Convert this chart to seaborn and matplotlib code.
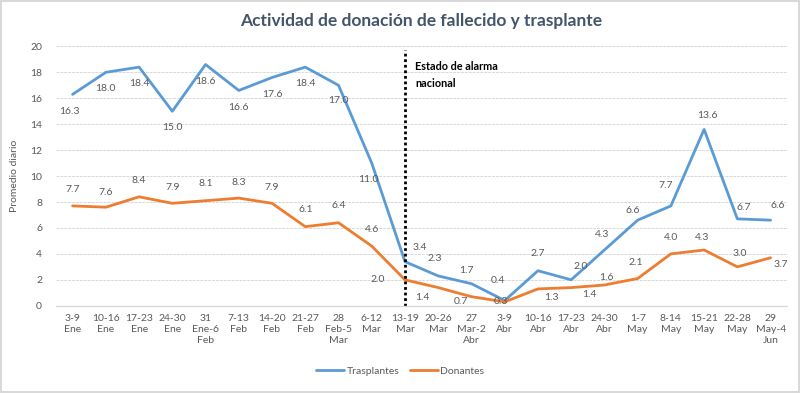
import numpy as np
import pandas as pd
import matplotlib
matplotlib.use("Agg")
import matplotlib.pyplot as plt
import seaborn as sns

categories = ["3-9\nEne", "10-16\nEne", "17-23\nEne", "24-30\nEne", "31\nEne-6\nFeb",
              "7-13\nFeb", "14-20\nFeb", "21-27\nFeb", "28\nFeb-5\nMar", "6-12\nMar",
              "13-19\nMar", "20-26\nMar", "27\nMar-2\nAbr", "3-9\nAbr", "10-16\nAbr",
              "17-23\nAbr", "24-30\nAbr", "1-7\nMay", "8-14\nMay", "15-21\nMay",
              "22-28\nMay", "29\nMay-4\nJun"]
trasplantes = [16.3, 18.0, 18.4, 15.0, 18.6, 16.6, 17.6, 18.4, 17.0, 11.0, 3.4,
               2.3, 1.7, 0.4, 2.7, 2.0, 4.3, 6.6, 7.7, 13.6, 6.7, 6.6]
donantes = [7.7, 7.6, 8.4, 7.9, 8.1, 8.3, 7.9, 6.1, 6.4, 4.6, 2.0,
            1.4, 0.7, 0.3, 1.3, 1.4, 1.6, 2.1, 4.0, 4.3, 3.0, 3.7]
series_names = ["Trasplantes", "Donantes"]
yticks = [0, 2, 4, 6, 8, 10, 12, 14, 16, 18, 20]
alarm_index = 10

# label offsets in pixels (dx, dy up)
off_t = [(-3, -17), (0, -16), (0, -16), (0, -16), (0, -17), (0, -17), (0, -17), (0, -16),
         (0, -15), (-3, -16), (15, 14), (-3, 17), (-5, 13), (-7, 20), (0, 17), (10, 13),
         (-2, 15), (-5, 10), (-5, 20), (3, 14), (6, 11), (7, 15)]
off_d = [(0, 16), (0, 15), (0, 16), (0, 16), (0, 17), (0, 16), (0, 16), (0, 17),
         (0, 17), (0, 17), (-27, 0), (-16, -10), (-11, -5), (-4, 0), (13, -9), (18, -7),
         (2, 8), (-2, 16), (0, 16), (-2, 12), (2, 13), (10, -7)]

sns.set_style("white")
plt.rcParams['font.family'] = ['Lato', 'DejaVu Sans']

blue = "#5B9BD5"
orange = "#ED7D31"
gray = "#595959"

pos = np.arange(len(categories))
df = pd.DataFrame({
    "pos": np.concatenate([pos, pos]),
    "valor": trasplantes + donantes,
    "serie": [series_names[0]] * len(pos) + [series_names[1]] * len(pos),
})

fig = plt.figure(figsize=(8, 3.93), dpi=100)
ax = fig.add_axes([0.07, 0.222, 0.914, 0.66])
sns.lineplot(data=df, x="pos", y="valor", hue="serie", ax=ax,
             palette={series_names[0]: blue, series_names[1]: orange},
             linewidth=2.0, legend=True)

ax.set_xlim(-0.5, len(categories) - 0.5)
ax.set_ylim(0, 20)
ax.set_yticks(yticks)
ax.set_yticklabels([str(v) for v in yticks], color=gray, fontsize=7.5)
ax.set_xticks(pos)
ax.set_xticklabels(categories, color=gray, fontsize=7.5, linespacing=1.25)
ax.tick_params(axis="both", length=0)
ax.tick_params(axis="x", pad=6)
ax.tick_params(axis="y", pad=10)
ax.grid(axis="y", color="#D9D9D9", linestyle=(0, (3, 1)), linewidth=0.7)
ax.set_axisbelow(True)
for s in ["top", "right", "left"]:
    ax.spines[s].set_visible(False)
ax.spines["bottom"].set_color("#D9D9D9")
ax.spines["bottom"].set_linewidth(1.0)
ax.set_xlabel("")
ax.set_ylabel("Promedio diario", color=gray, fontsize=7.5, labelpad=8)

ax.set_title("Actividad de donación de fallecido y trasplante", color="#44546A",
             fontsize=12.5, fontweight="bold", pad=15)

# alarm line
ax.axvline(alarm_index, ymin=0, ymax=0.985, color="black", linestyle=(0, (1, 1)),
           linewidth=2.0)
ax.text(alarm_index + 0.3, 17.8, "Estado de alarma\nnacional", fontsize=7.8,
        fontweight="bold", color="black", va="center", ha="left", linespacing=1.75)

# data labels
px = 0.72
for i, v in enumerate(trasplantes):
    dx, dy = off_t[i]
    ax.annotate(f"{v:.1f}", (pos[i], v), xytext=(dx * px, dy * px),
                textcoords="offset points", ha="center", va="center",
                fontsize=7.5, color=gray)
for i, v in enumerate(donantes):
    dx, dy = off_d[i]
    ax.annotate(f"{v:.1f}", (pos[i], v), xytext=(dx * px, dy * px),
                textcoords="offset points", ha="center", va="center",
                fontsize=7.5, color=gray)

handles, labels = ax.get_legend_handles_labels()
ax.legend(handles, labels, loc="center", bbox_to_anchor=(0.5, 0.055),
          bbox_transform=fig.transFigure, ncol=2, frameon=False, fontsize=7.5,
          handlelength=2.7, handletextpad=0.2, columnspacing=1.0, labelcolor=gray)

fig.patch.set_edgecolor("#D9D9D9")
fig.patch.set_linewidth(1.5)
fig.savefig("out.png", dpi=100, edgecolor=fig.get_edgecolor())
